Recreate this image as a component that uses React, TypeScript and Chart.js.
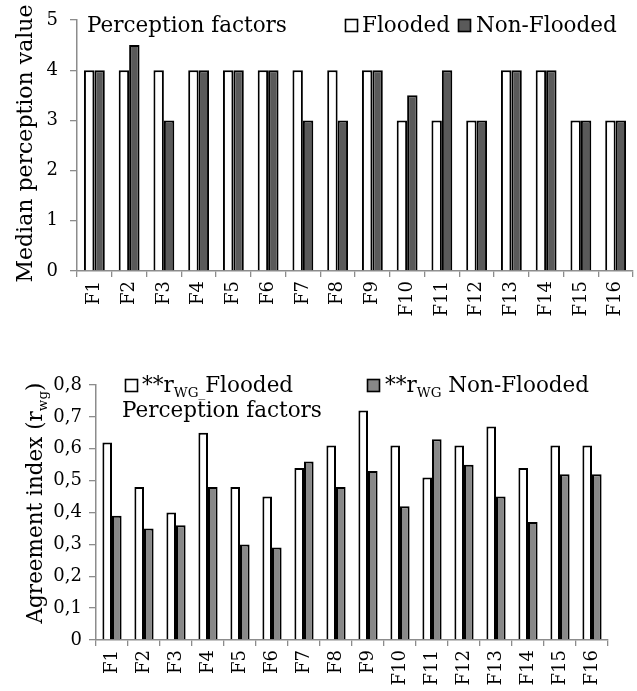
import React, { useEffect, useRef } from 'react';
import { Chart, registerables } from 'chart.js';

Chart.register(...registerables);

// ---------- data ----------
const FACTORS = ['F1', 'F2', 'F3', 'F4', 'F5', 'F6', 'F7', 'F8', 'F9', 'F10', 'F11', 'F12', 'F13', 'F14', 'F15', 'F16'];
const MEDIAN_FLOODED = [4, 4, 4, 4, 4, 4, 4, 4, 4, 3, 3, 3, 4, 4, 3, 3];
const MEDIAN_NON_FLOODED = [4, 4.5, 3, 4, 4, 4, 3, 3, 4, 3.5, 4, 3, 4, 4, 3, 3];
const RWG_FLOODED = [0.62, 0.48, 0.4, 0.65, 0.48, 0.45, 0.54, 0.61, 0.72, 0.61, 0.51, 0.61, 0.67, 0.54, 0.61, 0.61];
const RWG_NON_FLOODED = [0.39, 0.35, 0.36, 0.48, 0.3, 0.29, 0.56, 0.48, 0.53, 0.42, 0.63, 0.55, 0.45, 0.37, 0.52, 0.52];
const MEDIAN_AXIS = { min: 0, max: 5, step: 1 };
const RWG_AXIS = { min: 0, max: 0.8, step: 0.1 };

// ---------- style ----------
const FAMILY = "'DejaVu Serif', 'Liberation Serif', serif";
const AXIS_COLOR = '#8c8c8c';
const DARK = '#5a5a5a';
const MID = '#888888';
const W = 637;
const TOP_H = 335;
const BOT_H = 356;
const TXT = 21.5;

type Run = { t: string; size: number; dy?: number };

function runsWidth(ctx: CanvasRenderingContext2D, runs: Run[]) {
  let w = 0;
  for (const r of runs) {
    ctx.font = `${r.size}px ${FAMILY}`;
    w += ctx.measureText(r.t).width;
  }
  return w;
}

function drawRuns(ctx: CanvasRenderingContext2D, x: number, y: number, runs: Run[]) {
  let cx = x;
  ctx.textAlign = 'left';
  ctx.textBaseline = 'alphabetic';
  for (const r of runs) {
    ctx.font = `${r.size}px ${FAMILY}`;
    ctx.fillText(r.t, cx, y + (r.dy || 0));
    cx += ctx.measureText(r.t).width;
  }
  return cx;
}

function box(ctx: CanvasRenderingContext2D, x: number, y: number, s: number, fill: string) {
  ctx.fillStyle = fill;
  ctx.fillRect(x, y, s, s);
  ctx.strokeStyle = '#000';
  ctx.lineWidth = 1.6;
  ctx.strokeRect(x, y, s, s);
  ctx.fillStyle = '#000';
}

function verticalTitle(ctx: CanvasRenderingContext2D, x: number, cy: number, runs: Run[]) {
  ctx.save();
  ctx.translate(x, cy);
  ctx.rotate(-Math.PI / 2);
  ctx.fillStyle = '#000';
  const w = runsWidth(ctx, runs);
  drawRuns(ctx, -w / 2, 0, runs);
  ctx.restore();
}

function fmtComma(v: number) {
  if (Math.abs(v) < 1e-9) return '0';
  return v.toFixed(1).replace('.', ',');
}

function makeOptions(p: {
  axis: { min: number; max: number; step: number };
  yWidth: number;
  xHeight: number;
  padTop: number;
  padRight: number;
  yTickPad: number;
  fmt: (v: number) => string;
}) {
  return {
    responsive: false,
    animation: false as const,
    layout: { padding: { top: p.padTop, right: p.padRight, left: 0, bottom: 0 } },
    plugins: { legend: { display: false }, tooltip: { enabled: false }, title: { display: false } },
    scales: {
      x: {
        grid: {
          display: true,
          drawOnChartArea: false,
          drawTicks: true,
          tickLength: 6,
          color: AXIS_COLOR,
          lineWidth: 1.3,
          offset: true,
        },
        border: { color: AXIS_COLOR, width: 1.5 },
        ticks: {
          color: '#000',
          font: { family: FAMILY, size: 18 },
          minRotation: 90,
          maxRotation: 90,
          padding: 4,
          autoSkip: false,
        },
        afterFit: (s: any) => {
          s.height = p.xHeight;
          s.paddingLeft = 0;
          s.paddingRight = 0;
          s.paddingTop = 0;
          s.paddingBottom = 0;
        },
      },
      y: {
        min: p.axis.min,
        max: p.axis.max,
        ticks: {
          stepSize: p.axis.step,
          color: '#000',
          font: { family: FAMILY, size: 18 },
          padding: p.yTickPad,
          callback: (v: any) => p.fmt(Number(v)),
        },
        grid: {
          display: true,
          drawOnChartArea: false,
          drawTicks: true,
          tickLength: 7,
          color: AXIS_COLOR,
          lineWidth: 1.3,
        },
        border: { color: AXIS_COLOR, width: 1.5 },
        afterFit: (s: any) => {
          s.width = p.yWidth;
          s.paddingLeft = 0;
          s.paddingRight = 0;
          s.paddingTop = 0;
          s.paddingBottom = 0;
        },
      },
    },
  };
}

function barSet(label: string, data: number[], fill: string) {
  return {
    label,
    data,
    backgroundColor: fill,
    borderColor: '#000',
    borderWidth: 2,
    categoryPercentage: 0.6,
    barPercentage: 1,
  };
}

export default function App() {
  const topRef = useRef<HTMLCanvasElement>(null);
  const botRef = useRef<HTMLCanvasElement>(null);

  useEffect(() => {
    const charts: Chart[] = [];
    if (topRef.current) {
      charts.push(
        new Chart(topRef.current, {
          type: 'bar',
          data: {
            labels: FACTORS,
            datasets: [
              barSet('Flooded', MEDIAN_FLOODED, '#ffffff'),
              barSet('Non-Flooded', MEDIAN_NON_FLOODED, DARK),
            ],
          },
          options: makeOptions({
            axis: MEDIAN_AXIS,
            yWidth: 77,
            xHeight: 64,
            padTop: 20,
            padRight: 4,
            yTickPad: 12,
            fmt: (v) => String(v),
          }) as any,
          plugins: [
            {
              id: 'topOverlay',
              afterDraw(chart: any) {
                const ctx = chart.ctx as CanvasRenderingContext2D;
                const a = chart.chartArea;
                ctx.save();
                ctx.fillStyle = '#000';
                drawRuns(ctx, 87, 32, [{ t: 'Perception factors', size: TXT }]);
                box(ctx, 345.5, 19.5, 12, '#ffffff');
                drawRuns(ctx, 362, 32, [{ t: 'Flooded', size: TXT }]);
                box(ctx, 458.5, 19.5, 12, DARK);
                drawRuns(ctx, 476, 32, [{ t: 'Non-Flooded', size: TXT }]);
                verticalTitle(ctx, 32, (a.top + a.bottom) / 2 - 2, [{ t: 'Median perception value', size: 22 }]);
                ctx.restore();
              },
            },
          ],
        })
      );
    }
    if (botRef.current) {
      charts.push(
        new Chart(botRef.current, {
          type: 'bar',
          data: {
            labels: FACTORS,
            datasets: [
              barSet('**rWG_Flooded', RWG_FLOODED, '#ffffff'),
              barSet('**rWG Non-Flooded', RWG_NON_FLOODED, MID),
            ],
          },
          options: makeOptions({
            axis: RWG_AXIS,
            yWidth: 96,
            xHeight: 51,
            padTop: 50,
            padRight: 29,
            yTickPad: 7,
            fmt: fmtComma,
          }) as any,
          plugins: [
            {
              id: 'botOverlay',
              afterDraw(chart: any) {
                const ctx = chart.ctx as CanvasRenderingContext2D;
                ctx.save();
                ctx.fillStyle = '#000';
                box(ctx, 125.5, 44.5, 12, '#ffffff');
                drawRuns(ctx, 142, 57, [
                  { t: '**r', size: TXT },
                  { t: 'WG_', size: 13.5, dy: 5 },
                  { t: 'Flooded', size: TXT },
                ]);
                box(ctx, 367.5, 44.5, 12, MID);
                drawRuns(ctx, 385, 57, [
                  { t: '**r', size: TXT },
                  { t: 'WG', size: 13.5, dy: 5 },
                  { t: ' Non-Flooded', size: TXT },
                ]);
                drawRuns(ctx, 122, 82, [{ t: 'Perception factors', size: TXT }]);
                verticalTitle(ctx, 42, 168, [
                  { t: 'Agreement index (r', size: TXT },
                  { t: 'wg', size: 13.5, dy: 5 },
                  { t: ')', size: TXT },
                ]);
                ctx.restore();
              },
            },
          ],
        })
      );
    }
    return () => {
      charts.forEach((c) => c.destroy());
    };
  }, []);

  return (
    <div style={{ position: 'absolute', left: 0, top: 0, width: W, height: TOP_H + BOT_H, background: '#fff' }}>
      <canvas ref={topRef} width={W} height={TOP_H} style={{ position: 'absolute', left: 0, top: 0, width: W, height: TOP_H }} />
      <canvas ref={botRef} width={W} height={BOT_H} style={{ position: 'absolute', left: 0, top: TOP_H, width: W, height: BOT_H }} />
    </div>
  );
}
